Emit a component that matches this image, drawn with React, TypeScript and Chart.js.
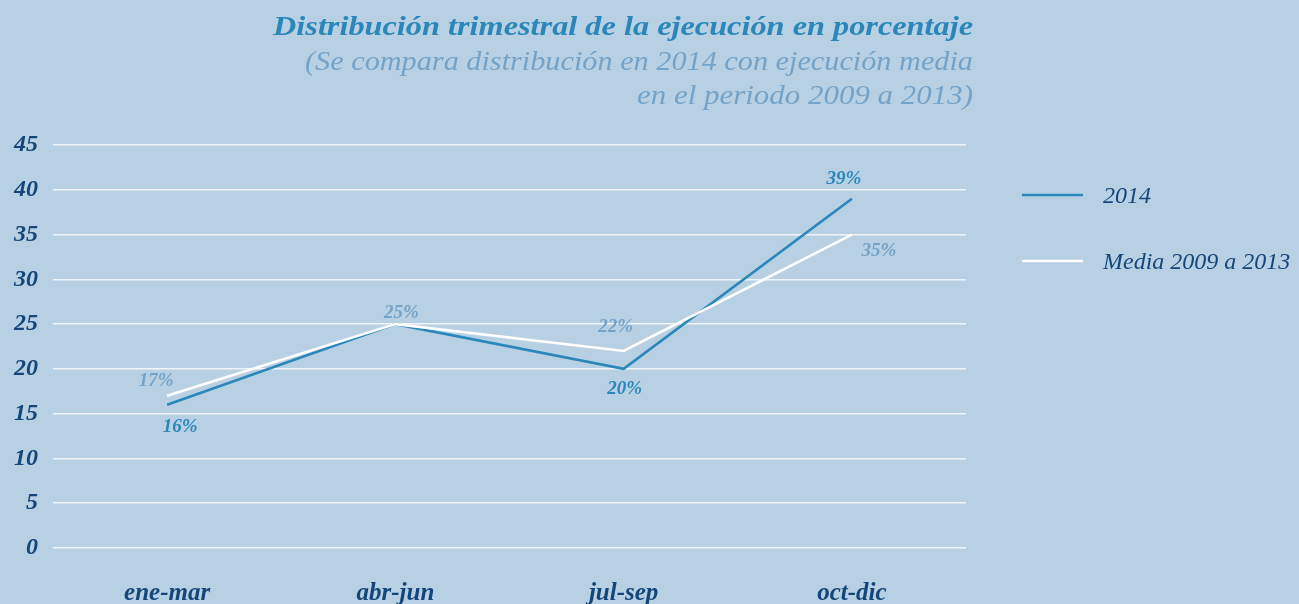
import React, { useEffect, useRef } from "react";
import { Chart, registerables } from "chart.js";

Chart.register(...registerables);

// Quarters and execution percentages
const quarters = ["ene-mar", "abr-jun", "jul-sep", "oct-dic"];
const yTicks = [0, 5, 10, 15, 20, 25, 30, 35, 40, 45];
const serie2014 = [16, 25, 20, 39];
const serieMedia = [17, 25, 22, 35];
const label2014 = "2014";
const labelMedia = "Media 2009 a 2013";
const titleText = "Distribución trimestral de la ejecución en porcentaje";
const subtitleLines = [
  "(Se compara distribución en 2014 con ejecución media",
  "en el periodo 2009 a 2013)",
];

// Styling
const BG = "#b8d0e4";
const BLUE = "#2b87b9";
const LIGHT = "#74a3c9";
const NAVY = "#14467a";
const GRID = "#eef4f9";
const SERIF = "'Liberation Serif', 'DejaVu Serif', serif";

// Value label placement relative to each point (dx, dy)
const offsets2014: [number, number][] = [[13, 22], [0, 0], [1, 20], [-8, -20]];
const offsetsMedia: [number, number][] = [[-11, -15], [6, -11], [-8, -24], [27, 17]];
const show2014 = [true, false, true, true];

// Right-aligned text stretched horizontally to a given width
function drawStretched(ctx: CanvasRenderingContext2D, text: string, right: number, y: number, width: number) {
  const w = ctx.measureText(text).width;
  const k = width / w;
  ctx.save();
  ctx.translate(right - width, y);
  ctx.scale(k, 1);
  ctx.textAlign = "left";
  ctx.fillText(text, 0, 0);
  ctx.restore();
}

const textPlugin = {
  id: "textOverlay",
  afterDatasetsDraw(chart: any) {
    const { ctx } = chart;
    ctx.save();
    ctx.textBaseline = "middle";
    ctx.fillStyle = BLUE;
    ctx.font = `italic bold 27px ${SERIF}`;
    drawStretched(ctx, titleText, 973, 28, 700);
    ctx.fillStyle = LIGHT;
    ctx.font = `italic 27px ${SERIF}`;
    drawStretched(ctx, subtitleLines[0], 973, 63, 668);
    drawStretched(ctx, subtitleLines[1], 973, 97, 336);

    // point value labels
    ctx.textAlign = "center";
    ctx.font = `italic bold 19px ${SERIF}`;
    const m0 = chart.getDatasetMeta(0);
    const m1 = chart.getDatasetMeta(1);
    m0.data.forEach((p: any, i: number) => {
      if (!show2014[i]) return;
      ctx.fillStyle = BLUE;
      ctx.fillText(serie2014[i] + "%", p.x + offsets2014[i][0], p.y + offsets2014[i][1]);
    });
    m1.data.forEach((p: any, i: number) => {
      ctx.fillStyle = LIGHT;
      ctx.fillText(serieMedia[i] + "%", p.x + offsetsMedia[i][0], p.y + offsetsMedia[i][1]);
    });

    // legend
    const items = [
      { text: label2014, color: BLUE, y: 195 },
      { text: labelMedia, color: "#ffffff", y: 261 },
    ];
    ctx.textAlign = "left";
    ctx.font = `italic 24px ${SERIF}`;
    items.forEach((it) => {
      ctx.strokeStyle = it.color;
      ctx.lineWidth = 2.5;
      ctx.beginPath();
      ctx.moveTo(1022, it.y);
      ctx.lineTo(1083, it.y);
      ctx.stroke();
      ctx.fillStyle = NAVY;
      ctx.fillText(it.text, 1103, it.y + 2);
    });
    ctx.restore();
  },
};

export default function App() {
  const ref = useRef<HTMLCanvasElement | null>(null);

  useEffect(() => {
    if (!ref.current) return;
    const chart = new Chart(ref.current, {
      type: "line",
      data: {
        labels: quarters,
        datasets: [
          {
            label: label2014,
            data: serie2014,
            borderColor: BLUE,
            borderWidth: 2.6,
            pointRadius: 0,
            tension: 0,
            order: 1,
          },
          {
            label: labelMedia,
            data: serieMedia,
            borderColor: "#ffffff",
            borderWidth: 2.6,
            pointRadius: 0,
            tension: 0,
            order: 0,
          },
        ],
      },
      options: {
        responsive: false,
        animation: false,
        layout: { padding: { top: 145, left: 8, right: 333, bottom: 0 } },
        plugins: {
          legend: { display: false },
          tooltip: { enabled: false },
          title: { display: false },
        },
        scales: {
          x: {
            offset: true,
            grid: { display: false, drawTicks: false },
            border: { display: false },
            ticks: {
              color: NAVY,
              padding: 31,
              font: { family: SERIF, size: 25, style: "italic", weight: "bold" },
            },
            afterFit: (s: any) => {
              s.height = 56;
            },
          },
          y: {
            min: 0,
            max: 45,
            afterBuildTicks: (s: any) => {
              s.ticks = yTicks.map((v) => ({ value: v }));
            },
            grid: { color: GRID, lineWidth: 1.5, drawTicks: false },
            border: { display: false },
            ticks: {
              color: NAVY,
              padding: 15,
              font: { family: SERIF, size: 24, style: "italic", weight: "bold" },
            },
            afterFit: (s: any) => {
              s.width = 45;
            },
          },
        },
      },
      plugins: [textPlugin],
    });
    return () => chart.destroy();
  }, []);

  return (
    <div
      style={{
        position: "fixed",
        left: 0,
        top: 0,
        width: 1299,
        height: 604,
        background: BG,
      }}
    >
      <canvas ref={ref} width={1299} height={604} style={{ display: "block" }} />
    </div>
  );
}
